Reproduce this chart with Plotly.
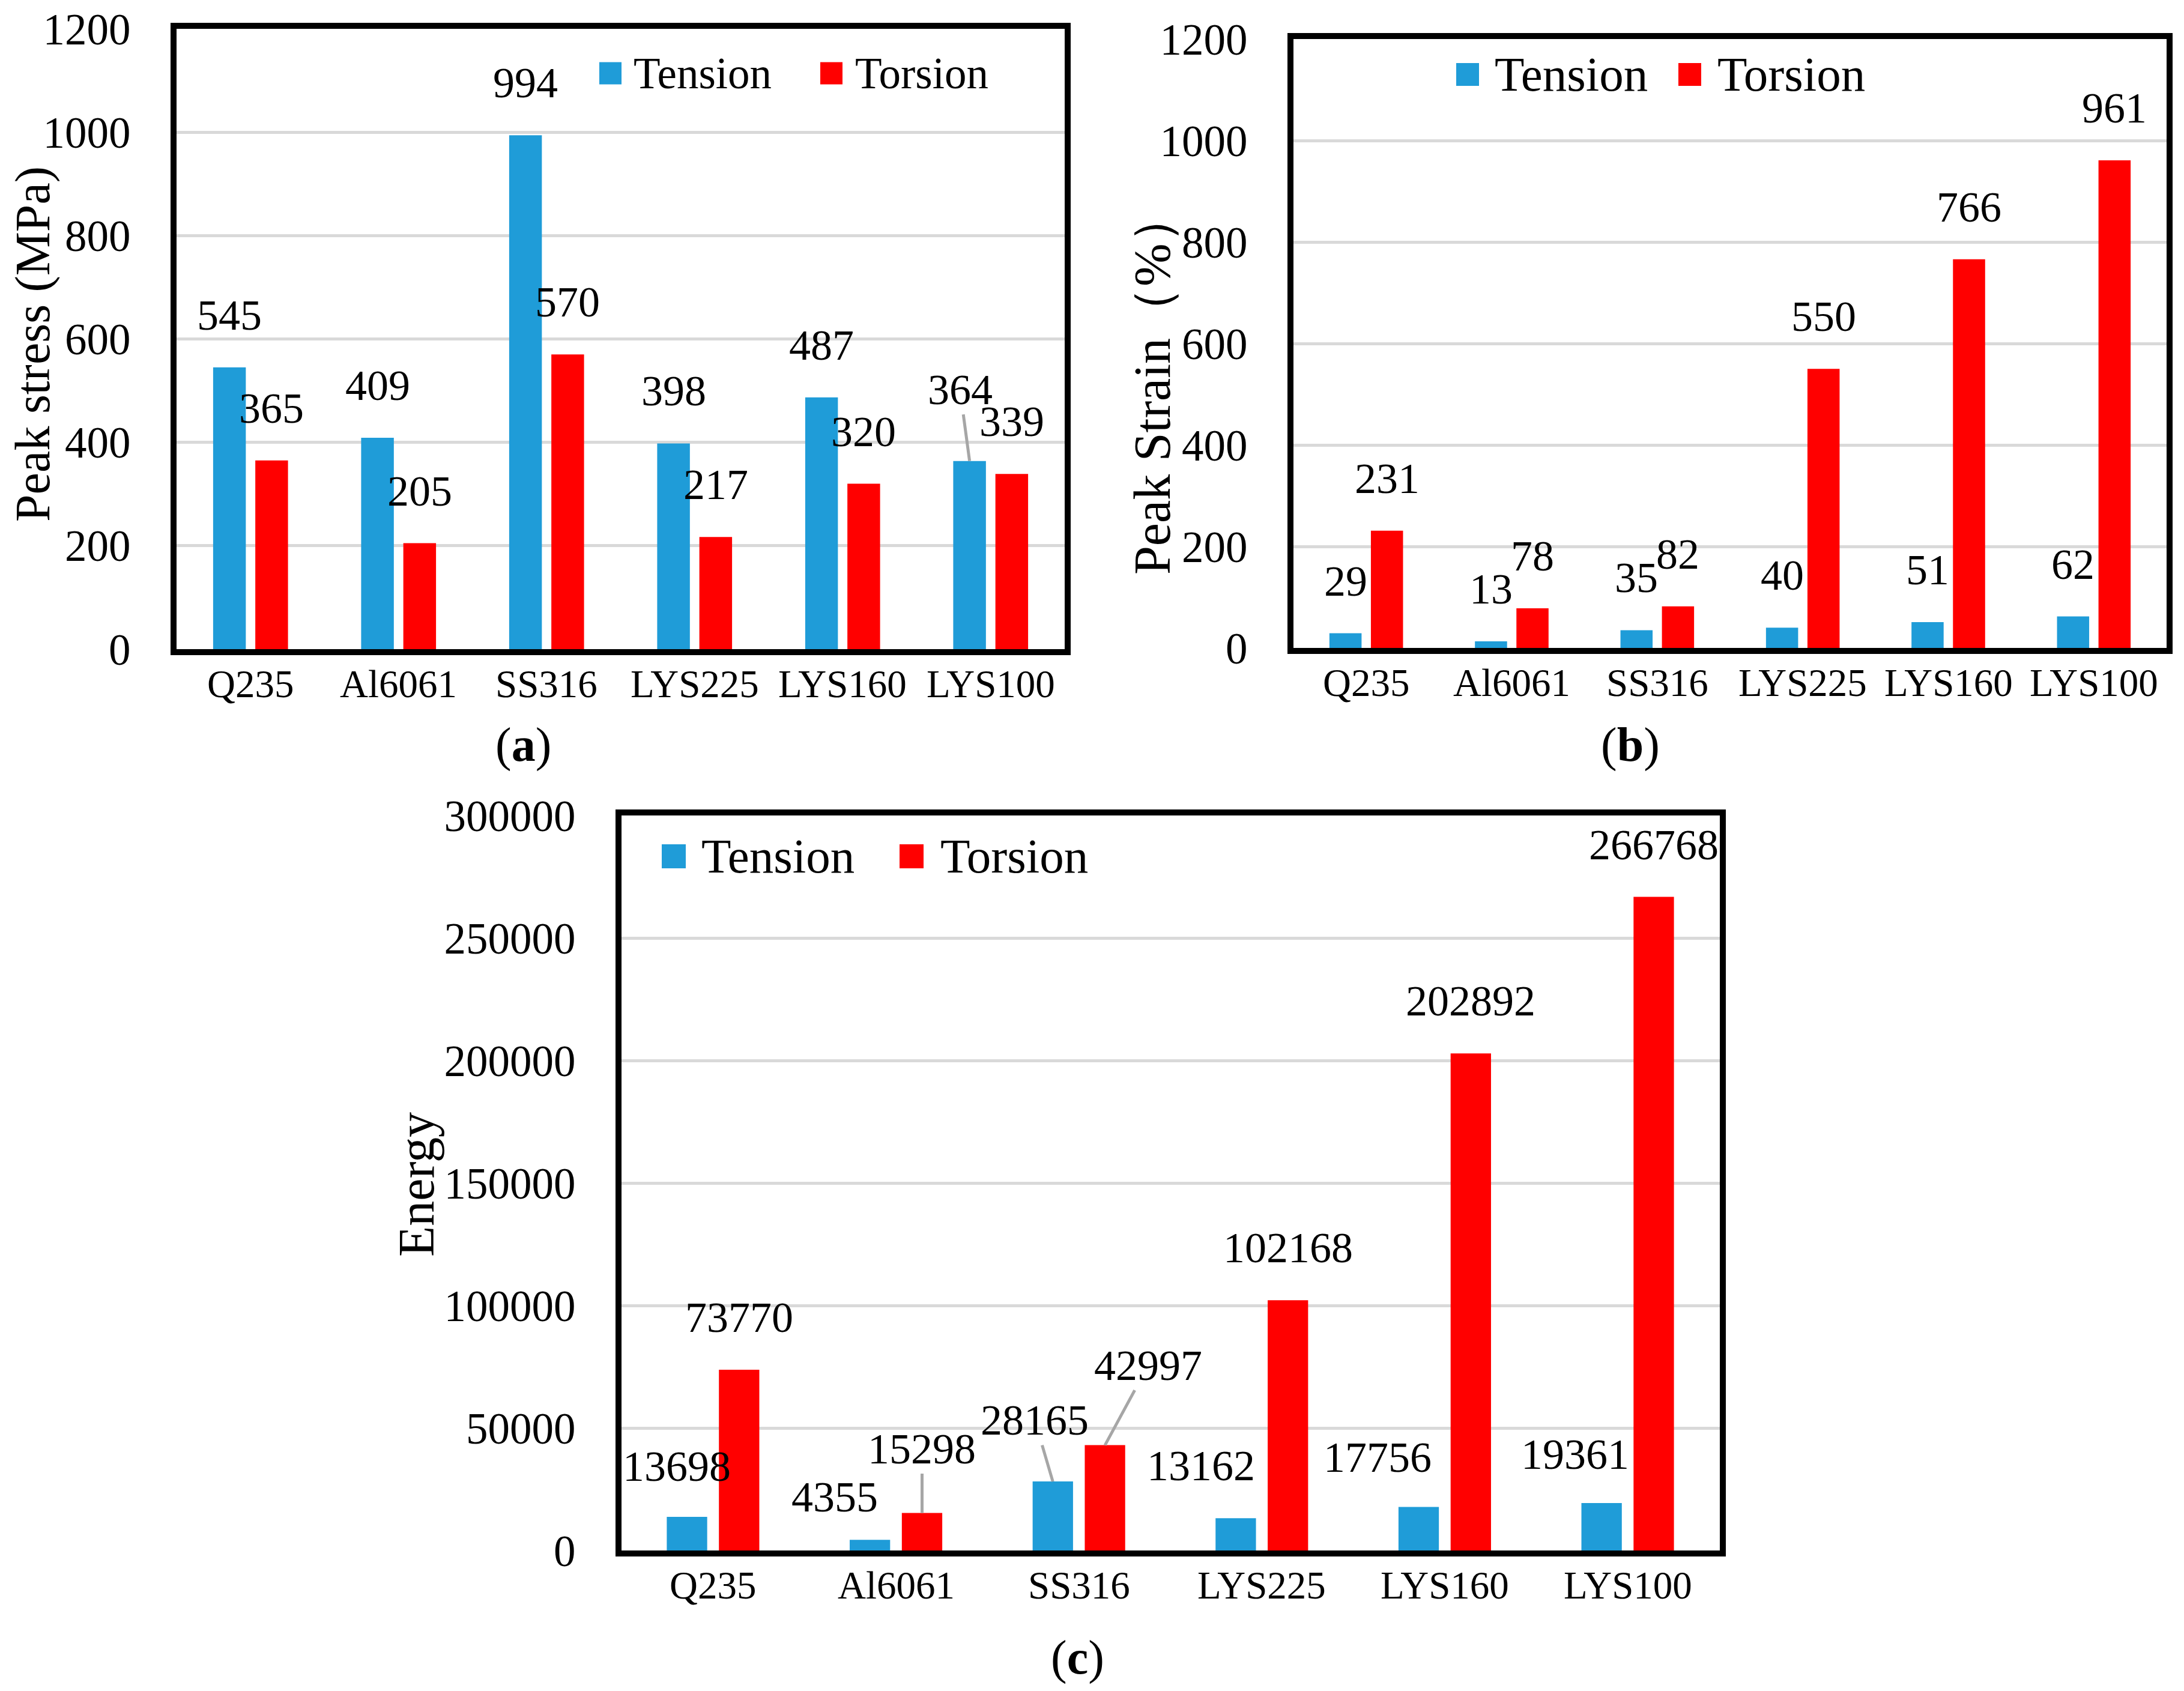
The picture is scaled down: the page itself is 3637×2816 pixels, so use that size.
### Tension vs torsion comparison: peak stress, peak strain and energy
## three clustered bar panels (a), (b), (c)

import plotly.graph_objects as go

W, H = 3637, 2816

categories = ["Q235", "Al6061", "SS316", "LYS225", "LYS160", "LYS100"]

stress_tension = [545, 409, 994, 398, 487, 364]
stress_torsion = [365, 205, 570, 217, 320, 339]

strain_tension = [29, 13, 35, 40, 51, 62]
strain_torsion = [231, 78, 82, 550, 766, 961]

energy_tension = [13698, 4355, 28165, 13162, 17756, 19361]
energy_torsion = [73770, 15298, 42997, 102168, 202892, 266768]

BLUE = "#1F9CD8"
RED = "#FF0000"
GRID = "#D9D9D9"
LEADER = "#A6A6A6"
FONT = "Liberation Serif, Times New Roman, serif"
BARGAP = 0.43
GROUPGAP = 0.225
LABEL_DY = 87

# label nudges (panel, series, index) -> (dx px, dy px above bar top, leader line)
# default is centred on the bar, LABEL_DY px above it
nudges = {
    (0, 0, 5): (-16, 119, True),
    (2, 0, 0): (-17, 84, False),
    (2, 0, 1): (-59, 71, False),
    (2, 1, 1): (0, 107, True),
    (2, 0, 2): (-30, 102, True),
    (2, 1, 2): (72, 133, True),
    (2, 0, 3): (-58, 87, False),
    (2, 0, 4): (-69, 83, False),
    (2, 0, 5): (-44, 81, False),
}

# panel boxes in pixels: (left, right), (top, bottom)
panels = [
    dict(px=(286, 1765), py=(40, 1073), ymax=1200, dtick=200,
         ten=stress_tension, tor=stress_torsion,
         title="Peak stress (MPa)", title_xy=(46, 565), title_size=82,
         tag="a", tag_xy=(863, 1232),
         leg=(990, 1045, 1358, 1414, 114), leg_sq=37, leg_size=73),
    dict(px=(2146, 3600), py=(57, 1071), ymax=1200, dtick=200,
         ten=strain_tension, tor=strain_torsion,
         title="Peak Strain（%）", title_xy=(1911, 630), title_size=86,
         tag="b", tag_xy=(2707, 1232),
         leg=(2417, 2479, 2787, 2850, 116), leg_sq=38, leg_size=81),
    dict(px=(1027, 2856), py=(1350, 2574), ymax=300000, dtick=50000,
         ten=energy_tension, tor=energy_torsion,
         title="Energy", title_xy=(685, 1965), title_size=84,
         tag="c", tag_xy=(1786, 2752),
         leg=(1094, 1158, 1490, 1556, 1418), leg_sq=40, leg_size=81),
]

fig = go.Figure()
annotations = []
shapes = []

for i, p in enumerate(panels):
    sx = "" if i == 0 else str(i + 1)
    fig.add_trace(go.Bar(x=categories, y=p["ten"], name="Tension", marker_color=BLUE,
                         xaxis="x" + sx, yaxis="y" + sx, showlegend=False))
    fig.add_trace(go.Bar(x=categories, y=p["tor"], name="Torsion", marker_color=RED,
                         xaxis="x" + sx, yaxis="y" + sx, showlegend=False))

    x0, x1 = p["px"]
    y0, y1 = p["py"]
    fig.layout["xaxis" + sx] = dict(
        domain=[x0 / W, x1 / W], anchor="y" + sx,
        showline=True, mirror=True, linewidth=10, linecolor="black",
        showgrid=False, ticks="", showticklabels=False)
    fig.layout["yaxis" + sx] = dict(
        domain=[1 - y1 / H, 1 - y0 / H], anchor="x" + sx,
        range=[0, p["ymax"]], dtick=p["dtick"], tickformat="d",
        showline=True, mirror=True, linewidth=10, linecolor="black",
        showgrid=True, gridcolor=GRID, gridwidth=5, zeroline=False,
        ticks="", tickfont=dict(size=73, color="black"), ticklabelstandoff=52,
        ticklabeloverflow="allow")

    # category labels under the box
    for c in categories:
        annotations.append(dict(x=c, y=0, xref="x" + sx, yref="y" + sx + " domain",
                                text=c, showarrow=False, yshift=-58,
                                xanchor="center", yanchor="middle",
                                font=dict(size=65, color="black")))

    # bar centre offset from category centre, in pixels
    cat_px = (x1 - x0) / len(categories)
    off = (1 - BARGAP) / 4 * cat_px

    for j, vals in enumerate([p["ten"], p["tor"]]):
        sign = -1 if j == 0 else 1
        for k, v in enumerate(vals):
            dx, dy, lead = nudges.get((i, j, k), (0, LABEL_DY, False))
            a = dict(x=categories[k], y=v, xref="x" + sx, yref="y" + sx,
                     text=str(v), font=dict(size=72, color="black"))
            if lead:
                a.update(showarrow=True, xshift=sign * off, ax=dx, ay=-dy,
                         arrowhead=0, arrowwidth=5, arrowcolor=LEADER,
                         standoff=0, startstandoff=0)
            else:
                a.update(showarrow=False, xshift=sign * off + dx, yshift=dy,
                         xanchor="center", yanchor="middle")
            annotations.append(a)

    # hand-made legend
    bx, tx, rx, rtx, ly = p["leg"]
    s = p["leg_sq"]
    for sqx, col in [(bx, BLUE), (rx, RED)]:
        shapes.append(dict(type="rect", xref="paper", yref="paper",
                           x0=sqx / W, x1=(sqx + s) / W,
                           y0=1 - (ly + s / 2) / H, y1=1 - (ly - s / 2) / H,
                           fillcolor=col, line=dict(width=0)))
    for txx, label in [(tx, "Tension"), (rtx, "Torsion")]:
        annotations.append(dict(x=txx / W, y=1 - ly / H, xref="paper", yref="paper",
                                text=label, showarrow=False, xanchor="left",
                                yanchor="middle",
                                font=dict(size=p["leg_size"], color="black")))

    # axis title and panel tag
    annotations.append(dict(x=p["title_xy"][0] / W, y=1 - p["title_xy"][1] / H,
                            xref="paper", yref="paper", text=p["title"],
                            textangle=-90, showarrow=False,
                            xanchor="center", yanchor="middle",
                            font=dict(size=p["title_size"], color="black")))
    annotations.append(dict(x=p["tag_xy"][0] / W, y=1 - p["tag_xy"][1] / H,
                            xref="paper", yref="paper",
                            text="(<b>" + p["tag"] + "</b>)", showarrow=False,
                            xanchor="center", yanchor="middle",
                            font=dict(size=80, color="black")))

fig.update_layout(
    width=W, height=H,
    margin=dict(l=0, r=0, t=0, b=0),
    template="none",
    paper_bgcolor="white", plot_bgcolor="white",
    barmode="group", bargap=BARGAP, bargroupgap=GROUPGAP,
    font=dict(family=FONT, color="black"),
    showlegend=False,
    annotations=annotations,
    shapes=shapes,
)

fig.write_html("out.html")
